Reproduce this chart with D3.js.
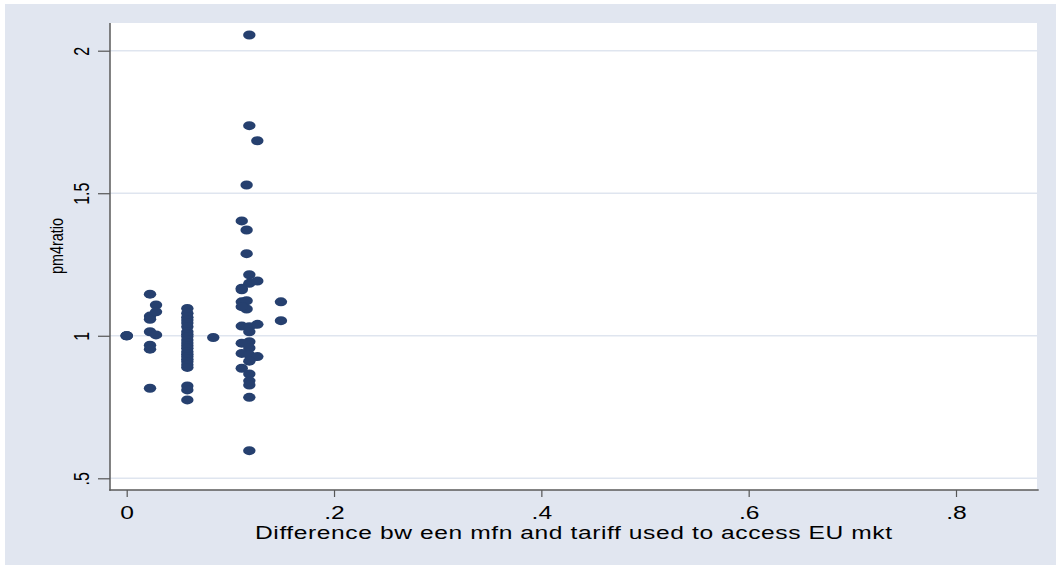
<!DOCTYPE html>
<html>
<head>
<meta charset="utf-8">
<script src="https://cdn.jsdelivr.net/npm/d3@7"></script>
<style>
  html, body { margin: 0; padding: 0; background: #ffffff; }
  svg { display: block; }
  text { font-family: "Liberation Sans", Arial, sans-serif; fill: #000; }
</style>
</head>
<body>
<svg id="chart" width="1056" height="565"></svg>
<script>
// Difference between MFN and the tariff used to access the EU market (x)
const tariffDiff = [
  0, 0, 0,
  0.0225, 0.0225, 0.0225, 0.0225, 0.0225, 0.0225, 0.0225,
  0.0283, 0.0283, 0.0283,
  0.0585, 0.0585, 0.0585, 0.0585, 0.0585, 0.0585, 0.0585, 0.0585,
  0.0585, 0.0585, 0.0585, 0.0585, 0.0585, 0.0585, 0.0585, 0.0585,
  0.0585, 0.0585, 0.0585, 0.0585, 0.0585, 0.0585, 0.0585,
  0.0835,
  0.1183, 0.1183, 0.126, 0.1157, 0.111, 0.1157, 0.1157, 0.1183, 0.1183, 0.126,
  0.111, 0.111, 0.111, 0.1157, 0.1157, 0.111,
  0.1488, 0.1488,
  0.111, 0.1183, 0.126, 0.1183, 0.1183, 0.111, 0.1183,
  0.111, 0.1183, 0.126, 0.1183, 0.111, 0.1183, 0.1183, 0.1183, 0.1183, 0.1183
];

// pm4ratio (y)
const pm4ratio = [
  1.0, 1.0, 1.0,
  1.146, 1.069, 1.058, 1.014, 0.967, 0.953, 0.816,
  1.108, 1.084, 1.003,
  1.096, 1.079, 1.065, 1.055, 1.045, 1.032, 1.014, 1.005,
  0.997, 0.985, 0.975, 0.965, 0.956, 0.944, 0.935, 0.927,
  0.918, 0.909, 0.898, 0.889, 0.824, 0.810, 0.775,
  0.994,
  2.055, 1.737, 1.684, 1.529, 1.403, 1.371, 1.288, 1.214, 1.184, 1.192,
  1.167, 1.161, 1.119, 1.123, 1.094, 1.102,
  1.119, 1.053,
  1.034, 1.032, 1.040, 1.014, 0.979, 0.974, 0.957,
  0.938, 0.933, 0.927, 0.911, 0.886, 0.866, 0.842, 0.827, 0.784, 0.597
];

const xTicks = [0, 0.2, 0.4, 0.6, 0.8];
const xTickLabels = ["0", ".2", ".4", ".6", ".8"];
const yTicks = [0.5, 1, 1.5, 2];
const yTickLabels = [".5", "1", "1.5", "2"];

const xTitle = "Difference bw een mfn and tariff used to access EU mkt";
const yTitle = "pm4ratio";

const svg = d3.select("#chart");

// plot region and outer graph region
const plot = { left: 110, right: 1037, top: 23, bottom: 490 };
const stretch = 1.33;

svg.append("rect")
  .attr("x", 5).attr("y", 4)
  .attr("width", 1051).attr("height", 561)
  .attr("fill", "#e1e6f0");

svg.append("rect")
  .attr("x", plot.left).attr("y", plot.top)
  .attr("width", plot.right - plot.left).attr("height", plot.bottom - plot.top)
  .attr("fill", "#ffffff");

const x = d3.scaleLinear().domain([0, 0.8]).range([126.7, 956]);
const y = d3.scaleLinear().domain([0.5, 2]).range([478.3, 50.7]);

// horizontal grid lines
svg.append("g")
  .selectAll("line")
  .data(yTicks)
  .join("line")
  .attr("x1", plot.left).attr("x2", plot.right)
  .attr("y1", d => y(d)).attr("y2", d => y(d))
  .attr("stroke", "#dfe5ef")
  .attr("stroke-width", 1.6);

// scatter markers
svg.append("g")
  .selectAll("ellipse")
  .data(tariffDiff.map((d, i) => [d, pm4ratio[i]]))
  .join("ellipse")
  .attr("cx", d => x(d[0]))
  .attr("cy", d => y(d[1]))
  .attr("rx", 6.2)
  .attr("ry", 4.5)
  .attr("fill", "#26406f");

// bottom axis
const xAxis = svg.append("g")
  .attr("transform", `translate(0,${plot.bottom})`)
  .call(d3.axisBottom(x)
    .tickValues(xTicks)
    .tickFormat((d, i) => xTickLabels[i])
    .tickSize(7)
    .tickSizeOuter(0));
xAxis.select(".domain").remove();
xAxis.selectAll(".tick line").attr("stroke", "#555").attr("stroke-width", 1.2);
xAxis.selectAll(".tick text")
  .attr("y", 29).attr("dy", null)
  .attr("font-size", 18.5)
  .attr("font-family", "Liberation Sans, Arial, sans-serif")
  .attr("fill", "#000")
  .attr("transform", `scale(${stretch},1)`);

// left axis
const yAxis = svg.append("g")
  .attr("transform", `translate(${plot.left},0)`)
  .call(d3.axisLeft(y)
    .tickValues(yTicks)
    .tickFormat((d, i) => yTickLabels[i])
    .tickSize(12)
    .tickSizeOuter(0));
yAxis.select(".domain").remove();
yAxis.selectAll(".tick line").attr("stroke", "#555").attr("stroke-width", 1.2);
yAxis.selectAll(".tick text")
  .attr("x", null).attr("dy", null)
  .attr("text-anchor", "middle")
  .attr("font-size", 16)
  .attr("font-family", "Liberation Sans, Arial, sans-serif")
  .attr("fill", "#000")
  .attr("transform", `translate(-21,0) scale(${stretch},1) rotate(-90)`);

// axis lines
svg.append("line")
  .attr("x1", plot.left).attr("x2", plot.left)
  .attr("y1", plot.top).attr("y2", plot.bottom + 0.75)
  .attr("stroke", "#5a5a5a").attr("stroke-width", 1.5);
svg.append("line")
  .attr("x1", plot.left - 0.75).attr("x2", 1038.7)
  .attr("y1", plot.bottom).attr("y2", plot.bottom)
  .attr("stroke", "#5a5a5a").attr("stroke-width", 1.5);

// axis titles
svg.append("g")
  .attr("transform", `translate(${(plot.left + plot.right) / 2},539) scale(${stretch},1)`)
  .append("text")
  .attr("text-anchor", "middle")
  .attr("font-size", 18.5)
  .attr("textLength", 479)
  .attr("lengthAdjust", "spacing")
  .text(xTitle);

svg.append("g")
  .attr("transform", `translate(63,246) scale(${stretch},1) rotate(-90)`)
  .append("text")
  .attr("text-anchor", "middle")
  .attr("font-size", 14.5)
  .attr("textLength", 56)
  .attr("lengthAdjust", "spacingAndGlyphs")
  .text(yTitle);
</script>
</body>
</html>
